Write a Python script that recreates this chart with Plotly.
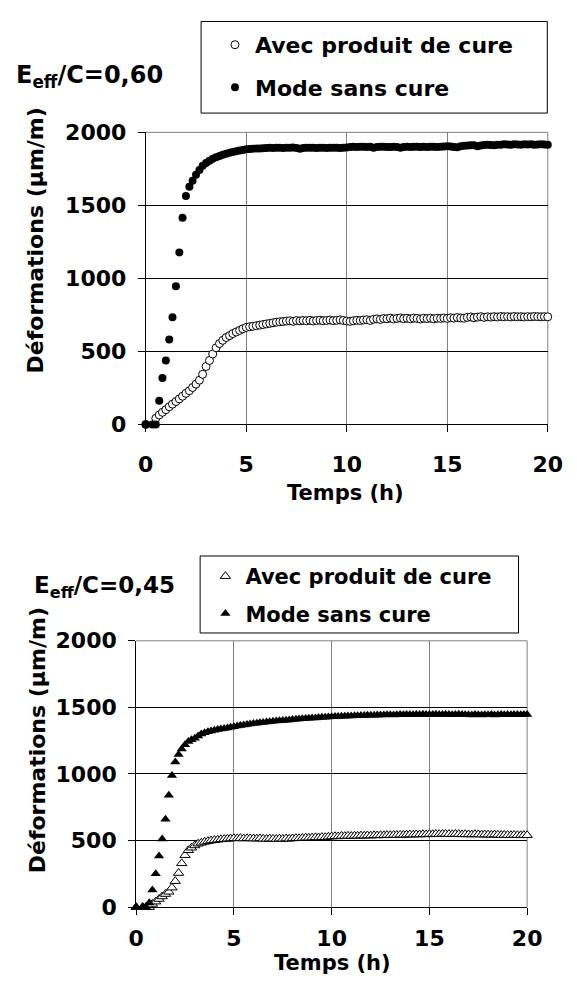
import plotly.graph_objects as go

# ---------------- data ----------------
time_h = [
    0.00, 0.17, 0.33, 0.50, 0.67, 0.83,
    1.00, 1.17, 1.33, 1.50, 1.67, 1.83,
    2.00, 2.17, 2.33, 2.50, 2.67, 2.83,
    3.00, 3.17, 3.33, 3.50, 3.67, 3.83,
    4.00, 4.17, 4.33, 4.50, 4.67, 4.83,
    5.00, 5.17, 5.33, 5.50, 5.67, 5.83,
    6.00, 6.17, 6.33, 6.50, 6.67, 6.83,
    7.00, 7.17, 7.33, 7.50, 7.67, 7.83,
    8.00, 8.17, 8.33, 8.50, 8.67, 8.83,
    9.00, 9.17, 9.33, 9.50, 9.67, 9.83,
    10.00, 10.17, 10.33, 10.50, 10.67, 10.83,
    11.00, 11.17, 11.33, 11.50, 11.67, 11.83,
    12.00, 12.17, 12.33, 12.50, 12.67, 12.83,
    13.00, 13.17, 13.33, 13.50, 13.67, 13.83,
    14.00, 14.17, 14.33, 14.50, 14.67, 14.83,
    15.00, 15.17, 15.33, 15.50, 15.67, 15.83,
    16.00, 16.17, 16.33, 16.50, 16.67, 16.83,
    17.00, 17.17, 17.33, 17.50, 17.67, 17.83,
    18.00, 18.17, 18.33, 18.50, 18.67, 18.83,
    19.00, 19.17, 19.33, 19.50, 19.67, 19.83,
    20.00,
]

# E_eff/C = 0,60
top_avec = [
    0, None, None, 42, 65, 83,
    101, 121, 139, 157, 175, 193,
    213, 231, 253, 276, 303, 343,
    397, 438, 482, 525, 554, 576,
    595, 608, 622, 633, 644, 655,
    664, 669, 672, 676, 680, 684,
    688, 692, 696, 700, 703, 705,
    708, 710, 706, 711, 709, 712,
    710, 713, 708, 712, 714, 710,
    712, 715, 711, 713, 716, 712,
    708, 706, 710, 713, 712, 715,
    717, 712, 720, 723, 719, 725,
    724, 728, 722, 726, 729, 724,
    727, 723, 728, 726, 722, 727,
    725, 728, 723, 727, 726, 729,
    726, 730, 728, 732, 729, 727,
    733, 736, 731, 735, 738, 733,
    737, 735, 738, 736, 739, 737,
    738, 736, 739, 737, 738, 736,
    738, 737, 739, 738, 737, 738,
    737,
]
top_sans = [
    0, None, 0, 0, 162, 318,
    438, 581, 734, 947, 1178, 1415,
    1565, 1627, 1669, 1709, 1742, 1771,
    1791, 1805, 1820, 1830, 1838, 1846,
    1853, 1860, 1865, 1870, 1875, 1880,
    1884, 1886, 1888, 1889, 1890, 1892,
    1893, 1894, 1893, 1895, 1894, 1893,
    1895, 1894, 1896, 1893, 1888, 1893,
    1894, 1895, 1894, 1893, 1895, 1894,
    1893, 1894, 1895, 1894, 1893, 1894,
    1896, 1900, 1901, 1900, 1902, 1901,
    1900, 1901, 1895, 1900, 1902, 1901,
    1900, 1899, 1901, 1900, 1895, 1900,
    1901, 1900, 1902, 1901, 1900, 1901,
    1900, 1902, 1901, 1900, 1901, 1903,
    1905, 1904, 1900, 1898, 1905, 1908,
    1910, 1912, 1911, 1905, 1910, 1913,
    1915, 1914, 1912, 1916, 1915, 1918,
    1917, 1916, 1918, 1917, 1916, 1918,
    1917, 1918, 1916, 1917, 1918, 1917,
    1916,
]

# E_eff/C = 0,45
bot_avec = [
    0, None, 0, 0, 0, 24,
    41, 61, 80, 98, 115, 146,
    195, 256, 329, 390, 427, 446,
    463, 476, 483, 490, 495, 500,
    503, 506, 509, 511, 513, 515,
    517, 516, 518, 515, 517, 516,
    515, 514, 516, 513, 512, 514,
    513, 511, 514, 512, 515, 513,
    516, 518, 517, 519, 521, 520,
    522, 524, 523, 526, 525, 528,
    530, 532, 531, 534, 533, 535,
    534, 536, 535, 537, 536, 538,
    537, 539, 538, 540, 539, 541,
    540, 542, 541, 543, 542, 544,
    545, 544, 546, 545, 547, 546,
    548, 547, 549, 548, 550, 549,
    548, 547, 549, 548, 546, 547,
    546, 545, 547, 546, 544, 545,
    544, 543, 545, 543, 541, 542,
    541, 540, 542, 540, 539, 541,
    540,
]
bot_sans = [
    0, None, 0, 0, 32, 129,
    251, 383, 512, 659, 841, 988,
    1090, 1146, 1188, 1220, 1244, 1256,
    1268, 1285, 1300, 1310, 1317, 1322,
    1329, 1333, 1337, 1341, 1345, 1350,
    1355, 1360, 1364, 1368, 1372, 1375,
    1378, 1381, 1384, 1387, 1390, 1392,
    1395, 1398, 1400, 1402, 1404, 1406,
    1408, 1410, 1412, 1414, 1416, 1418,
    1420, 1421, 1423, 1425, 1426, 1428,
    1430, 1431, 1432, 1433, 1434, 1435,
    1436, 1437, 1437, 1438, 1439, 1440,
    1441, 1440, 1442, 1443, 1442, 1444,
    1444, 1443, 1445, 1446, 1444, 1446,
    1446, 1445, 1447, 1446, 1448, 1447,
    1447, 1446, 1448, 1447, 1446, 1448,
    1447, 1445, 1446, 1448, 1446, 1444,
    1445, 1443, 1446, 1444, 1442, 1445,
    1444, 1446, 1443, 1445, 1447, 1444,
    1446, 1445, 1447, 1446, 1445, 1447,
    1446,
]

series_names = ["Avec produit de cure", "Mode sans cure"]
panel_titles = ["E<sub>eff</sub>/C=0,60", "E<sub>eff</sub>/C=0,45"]
x_title = "Temps (h)"
y_title = "Déformations (µm/m)"
x_ticks = [0, 5, 10, 15, 20]
y_ticks = [0, 500, 1000, 1500, 2000]

# ---------------- layout helpers ----------------
PAGE_W, PAGE_H = 577, 998
OFF = 8                      # default body margin of the written page
W, H = PAGE_W - 2 * OFF, PAGE_H - 2 * OFF
FONT = "'DejaVu Sans', Verdana, sans-serif"


def px_x(p):
    return (p - OFF) / W


def px_y(p):
    return 1 - (p - OFF) / H


# plot areas in page pixels (left, right, top, bottom)
top_box = (143.3, 562.5, 123.3, 423.0)
bot_box = (133.3, 541.0, 645.0, 918.3)
# legend frames in page pixels (left, right, top, bottom)
top_leg = (201, 562, 9.5, 103.5)
bot_leg = (200, 532, 558, 637)

fig = go.Figure()

fig.add_trace(go.Scatter(
    x=time_h, y=top_avec, mode="markers", name=series_names[0],
    marker=dict(symbol="circle", size=8, color="white", line=dict(color="black", width=1)),
    xaxis="x", yaxis="y", legend="legend", legendgroup="t1", cliponaxis=False))
fig.add_trace(go.Scatter(
    x=time_h, y=top_sans, mode="markers", name=series_names[1],
    marker=dict(symbol="circle", size=8, color="black", line=dict(color="black", width=0)),
    xaxis="x", yaxis="y", legend="legend", legendgroup="t2", cliponaxis=False))

fig.add_trace(go.Scatter(
    x=time_h, y=bot_avec, mode="markers", name=series_names[0],
    marker=dict(symbol="triangle-up", size=9, color="white", line=dict(color="black", width=1)),
    xaxis="x2", yaxis="y2", legend="legend2", legendgroup="b1", cliponaxis=False))
fig.add_trace(go.Scatter(
    x=time_h, y=bot_sans, mode="markers", name=series_names[1],
    marker=dict(symbol="triangle-up", size=9, color="black", line=dict(color="black", width=0)),
    xaxis="x2", yaxis="y2", legend="legend2", legendgroup="b2", cliponaxis=False))

tickfont = dict(family=FONT, size=22, color="black", weight="bold")


def xaxis_cfg(box, anchor, standoff):
    return dict(
        domain=[px_x(box[0]), px_x(box[1])], range=[0, 20], anchor=anchor,
        tickvals=x_ticks, showgrid=True, gridcolor="#808080", gridwidth=1,
        showline=True, linecolor="black", linewidth=1, zeroline=False,
        ticks="outside", ticklen=7, tickcolor="black", tickwidth=1,
        tickfont=tickfont, ticklabelstandoff=standoff, fixedrange=True)


def yaxis_cfg(box, anchor):
    return dict(
        domain=[px_y(box[3]), px_y(box[2])], range=[0, 2000], anchor=anchor,
        tickvals=y_ticks, showgrid=True, gridcolor="black", gridwidth=1,
        showline=True, linecolor="black", linewidth=1, zeroline=False,
        ticks="outside", ticklen=7, tickcolor="black", tickwidth=1,
        tickfont=tickfont, ticklabelstandoff=7, fixedrange=True)


fig.update_layout(
    width=W, height=H, margin=dict(l=0, r=0, t=0, b=0),
    paper_bgcolor="white", plot_bgcolor="white",
    showlegend=True,
    xaxis=xaxis_cfg(top_box, "y", 13), yaxis=yaxis_cfg(top_box, "x"),
    xaxis2=xaxis_cfg(bot_box, "y2", 4), yaxis2=yaxis_cfg(bot_box, "x2"),
    legend=dict(x=px_x(215.5), y=px_y(12), xanchor="left", yanchor="top",
                borderwidth=0, bgcolor="rgba(0,0,0,0)",
                font=dict(family=FONT, size=22, color="black", weight="bold"),
                tracegroupgap=11, itemsizing="trace", itemwidth=30),
    legend2=dict(x=px_x(205.5), y=px_y(558), xanchor="left", yanchor="top",
                 borderwidth=0, bgcolor="rgba(0,0,0,0)",
                 font=dict(family=FONT, size=21, color="black", weight="bold"),
                 tracegroupgap=7, itemsizing="trace", itemwidth=30),
)

for xa, ya in (("x", "y"), ("x2", "y2")):
    fig.add_shape(type="line", xref=f"{xa} domain", yref=f"{ya} domain",
                  x0=0, x1=1, y0=1, y1=1, line=dict(color="#808080", width=1), layer="above")
    fig.add_shape(type="line", xref=f"{xa} domain", yref=f"{ya} domain",
                  x0=1, x1=1, y0=0, y1=1, line=dict(color="#808080", width=1), layer="below")

# legend frames
for lf in (top_leg, bot_leg):
    fig.add_shape(type="rect", xref="paper", yref="paper",
                  x0=px_x(lf[0]), x1=px_x(lf[1]), y0=px_y(lf[3]), y1=px_y(lf[2]),
                  line=dict(color="black", width=1), fillcolor="rgba(0,0,0,0)", layer="above")

axis_title_font = dict(family=FONT, size=21, color="black", weight="bold")
ytitle_font = dict(family=FONT, size=22, color="black", weight="bold")

annotations = [
    dict(text=panel_titles[0], x=px_x(6), y=px_y(66), xref="paper", yref="paper",
         xanchor="left", yanchor="middle", showarrow=False,
         font=dict(family=FONT, size=24, color="black", weight="bold")),
    dict(text=panel_titles[1], x=px_x(25), y=px_y(590), xref="paper", yref="paper",
         xanchor="left", yanchor="middle", showarrow=False,
         font=dict(family=FONT, size=23, color="black", weight="bold")),
    dict(text=x_title, x=px_x(352), y=px_y(493), xref="paper", yref="paper",
         xanchor="center", yanchor="middle", showarrow=False, font=axis_title_font),
    dict(text=x_title, x=px_x(338), y=px_y(976), xref="paper", yref="paper",
         xanchor="center", yanchor="middle", showarrow=False, font=axis_title_font),
    dict(text=y_title, x=px_x(28), y=px_y(234), xref="paper", yref="paper", textangle=-90,
         xanchor="center", yanchor="middle", showarrow=False, font=ytitle_font),
    dict(text=y_title, x=px_x(30), y=px_y(747), xref="paper", yref="paper", textangle=-90,
         xanchor="center", yanchor="middle", showarrow=False, font=ytitle_font),
]
fig.update_layout(annotations=annotations)

fig.write_html("out.html")
